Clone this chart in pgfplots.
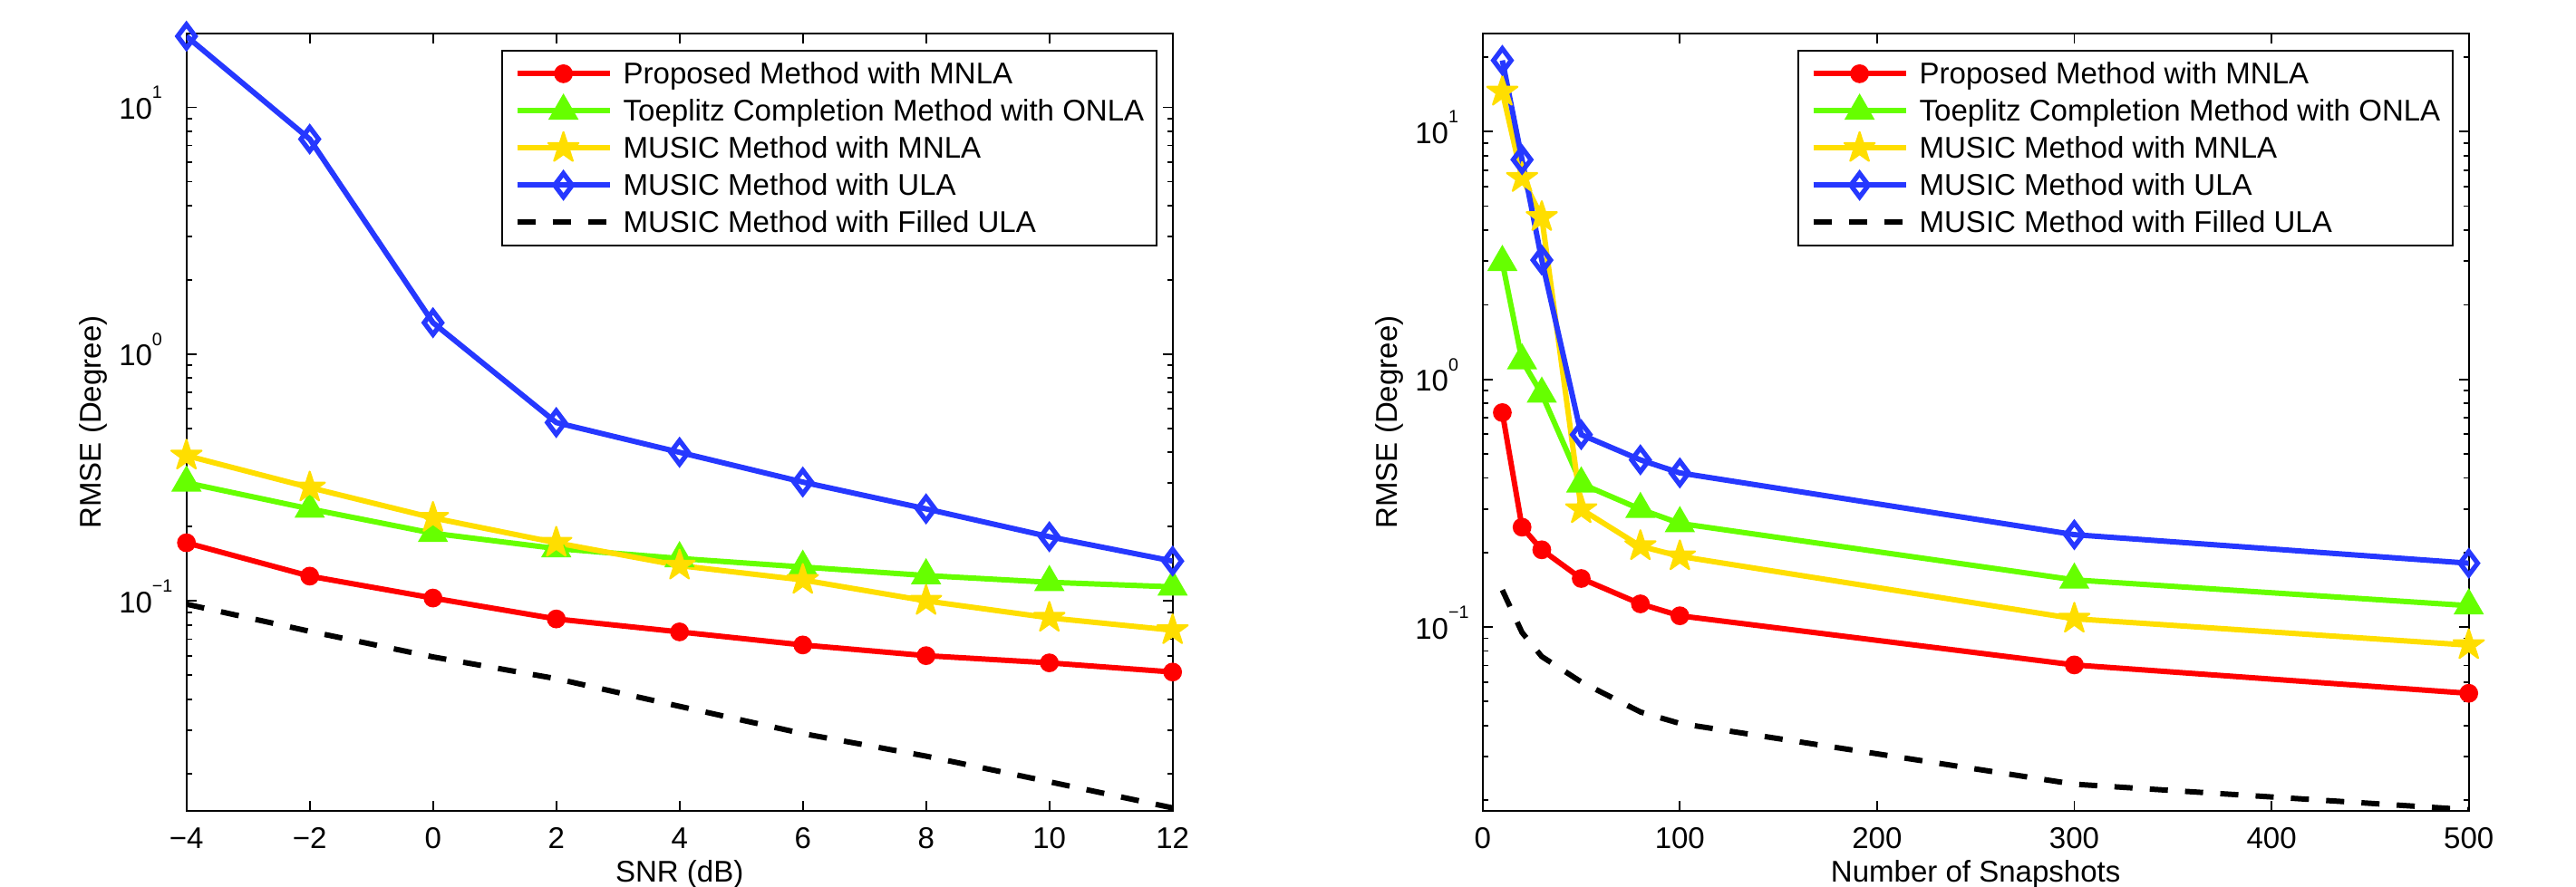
\documentclass[border=0pt]{standalone}
\usepackage{fontspec}
\setmainfont{Liberation Sans}
\usepackage{pgfplots}
\pgfplotsset{compat=1.18}

\definecolor{mred}{rgb}{1,0,0}
\definecolor{mgreen}{rgb}{0.4,1,0}
\definecolor{myellow}{rgb}{1,0.87,0}
\definecolor{mblue}{rgb}{0.15,0.22,1}

% filled five-pointed star, like matlab's pentagram marker
\pgfdeclareplotmark{pentagram}{%
  \pgfpathmoveto{\pgfpointpolar{90}{\pgfplotmarksize}}%
  \pgfpathlineto{\pgfpointpolar{126}{0.382\pgfplotmarksize}}%
  \pgfpathlineto{\pgfpointpolar{162}{\pgfplotmarksize}}%
  \pgfpathlineto{\pgfpointpolar{198}{0.382\pgfplotmarksize}}%
  \pgfpathlineto{\pgfpointpolar{234}{\pgfplotmarksize}}%
  \pgfpathlineto{\pgfpointpolar{270}{0.382\pgfplotmarksize}}%
  \pgfpathlineto{\pgfpointpolar{306}{\pgfplotmarksize}}%
  \pgfpathlineto{\pgfpointpolar{342}{0.382\pgfplotmarksize}}%
  \pgfpathlineto{\pgfpointpolar{18}{\pgfplotmarksize}}%
  \pgfpathlineto{\pgfpointpolar{54}{0.382\pgfplotmarksize}}%
  \pgfpathclose
  \pgfusepathqfillstroke
}

\newcommand\pw[1]{10\rlap{\raisebox{0.68em}{\fontsize{5.6}{6}\selectfont #1}}}
\newcommand\fs{\fontsize{9.4}{11}\selectfont}

\pgfplotsset{
  matfig/.style={
    scale only axis, width=10.88cm, height=8.58cm, anchor=south west,
    axis line style={line width=0.5pt},
    tick style={black, line width=0.5pt},
    major tick length=0.11cm, minor tick length=0.06cm,
    tick align=inside,
    ytick={0.1,1,10},
    yticklabels={\pw{−1},\pw{0},\pw{1}},
    minor ytick={0.02,0.03,0.04,0.05,0.06,0.07,0.08,0.09,
                 0.2,0.3,0.4,0.5,0.6,0.7,0.8,0.9,
                 2,3,4,5,6,7,8,9,20},
    every tick label/.append style={font=\fs},
    xticklabel style={anchor=base, yshift=-0.42cm, inner sep=0pt},
    yticklabel style={anchor=base east, inner sep=0pt, xshift=-0.37cm, yshift=-0.13cm},
    ylabel={RMSE (Degree)},
    label style={font=\fs, inner sep=0pt},
    ylabel style={at={(axis description cs:-0.0799,0.5)}, anchor=south},
    xlabel style={at={(axis description cs:0.5,-0.092)}, anchor=base},
    legend cell align=left,
    legend style={at={(0.9844,0.979)}, anchor=north east, draw=black,
      line width=0.5pt, font=\fs, inner xsep=0.135cm, inner ysep=0.05cm,
      row sep=0pt,
      nodes={inner sep=0pt, text height=0.315cm, text depth=0.095cm},
      /tikz/every odd column/.append style={column sep=0.12cm}},
    legend image code/.code={\draw[mark repeat=2,mark phase=2,##1]
      plot coordinates {(0cm,0cm) (0.51cm,0cm) (1.02cm,0cm)};},
  },
  sred/.style={color=mred, line width=1.7pt, mark=*, mark size=2.7pt,
    mark options={solid, fill=mred, line width=0.5pt}},
  sgreen/.style={color=mgreen, line width=1.7pt, mark=triangle*, mark size=4.5pt,
    mark options={solid, fill=mgreen, line width=1pt}},
  syellow/.style={color=myellow, line width=1.7pt, mark=pentagram, mark size=5pt,
    mark options={solid, fill=myellow, line width=0.6pt, line join=round}},
  sblue/.style={color=mblue, line width=1.7pt, mark=diamond, mark size=3.7pt,
    mark options={solid, line width=1.5pt}},
  sdash/.style={color=black, line width=1.7pt, dash pattern=on 0.2cm off 0.19cm, mark=none},
}

\begin{document}
\begin{tikzpicture}
\path[use as bounding box] (0,0) rectangle (28.42cm,9.79cm);

\begin{semilogyaxis}[matfig, at={(2.057cm,0.84cm)},
  xmin=-4, xmax=12, ymin=0.0141, ymax=19.9,
  xtick={-4,-2,0,2,4,6,8,10,12},
  xticklabels={−4,−2,0,2,4,6,8,10,12},
  xlabel={SNR (dB)}]
\addplot[sred] coordinates {
  (-4,0.172) (-2,0.126) (0,0.1027) (2,0.0845) (4,0.0749) (6,0.0663) (8,0.060) (10,0.0561) (12,0.0515)};
\addplot[sgreen] coordinates {
  (-4,0.301) (-2,0.236) (0,0.188) (2,0.163) (4,0.1486) (6,0.1372) (8,0.1267) (10,0.119) (12,0.114)};
\addplot[syellow] coordinates {
  (-4,0.388) (-2,0.288) (0,0.217) (2,0.172) (4,0.139) (6,0.1216) (8,0.100) (10,0.0854) (12,0.0761)};
\addplot[sblue] coordinates {
  (-4,19.4) (-2,7.43) (0,1.34) (2,0.528) (4,0.40) (6,0.303) (8,0.236) (10,0.182) (12,0.145)};
\addplot[sdash] coordinates {
  (-4,0.097) (-2,0.0753) (0,0.0593) (2,0.0484) (4,0.0374) (6,0.029) (8,0.0235) (10,0.0185) (12,0.0145)};
\legend{Proposed Method with MNLA, Toeplitz Completion Method with ONLA,
  MUSIC Method with MNLA, MUSIC Method with ULA, MUSIC Method with Filled ULA}
\end{semilogyaxis}

\begin{semilogyaxis}[matfig, at={(16.357cm,0.84cm)},
  xmin=0, xmax=500, ymin=0.0181, ymax=24.9,
  xtick={0,100,200,300,400,500},
  xticklabels={0,100,200,300,400,500},
  xlabel={Number of Snapshots}]
\addplot[sred] coordinates {
  (10,0.734) (20,0.253) (30,0.205) (50,0.157) (80,0.124) (100,0.111) (300,0.0703) (500,0.054)};
\addplot[sgreen] coordinates {
  (10,2.97) (20,1.19) (30,0.873) (50,0.379) (80,0.299) (100,0.262) (300,0.155) (500,0.122)};
\addplot[syellow] coordinates {
  (10,14.5) (20,6.5) (30,4.52) (50,0.299) (80,0.212) (100,0.193) (300,0.108) (500,0.0845)};
\addplot[sblue] coordinates {
  (10,19.4) (20,7.71) (30,3.03) (50,0.598) (80,0.473) (100,0.419) (300,0.236) (500,0.181)};
\addplot[sdash] coordinates {
  (10,0.141) (20,0.095) (30,0.076) (50,0.060) (80,0.0454) (100,0.0408) (300,0.0232) (500,0.0183)};
\legend{Proposed Method with MNLA, Toeplitz Completion Method with ONLA,
  MUSIC Method with MNLA, MUSIC Method with ULA, MUSIC Method with Filled ULA}
\end{semilogyaxis}
\end{tikzpicture}
\end{document}
